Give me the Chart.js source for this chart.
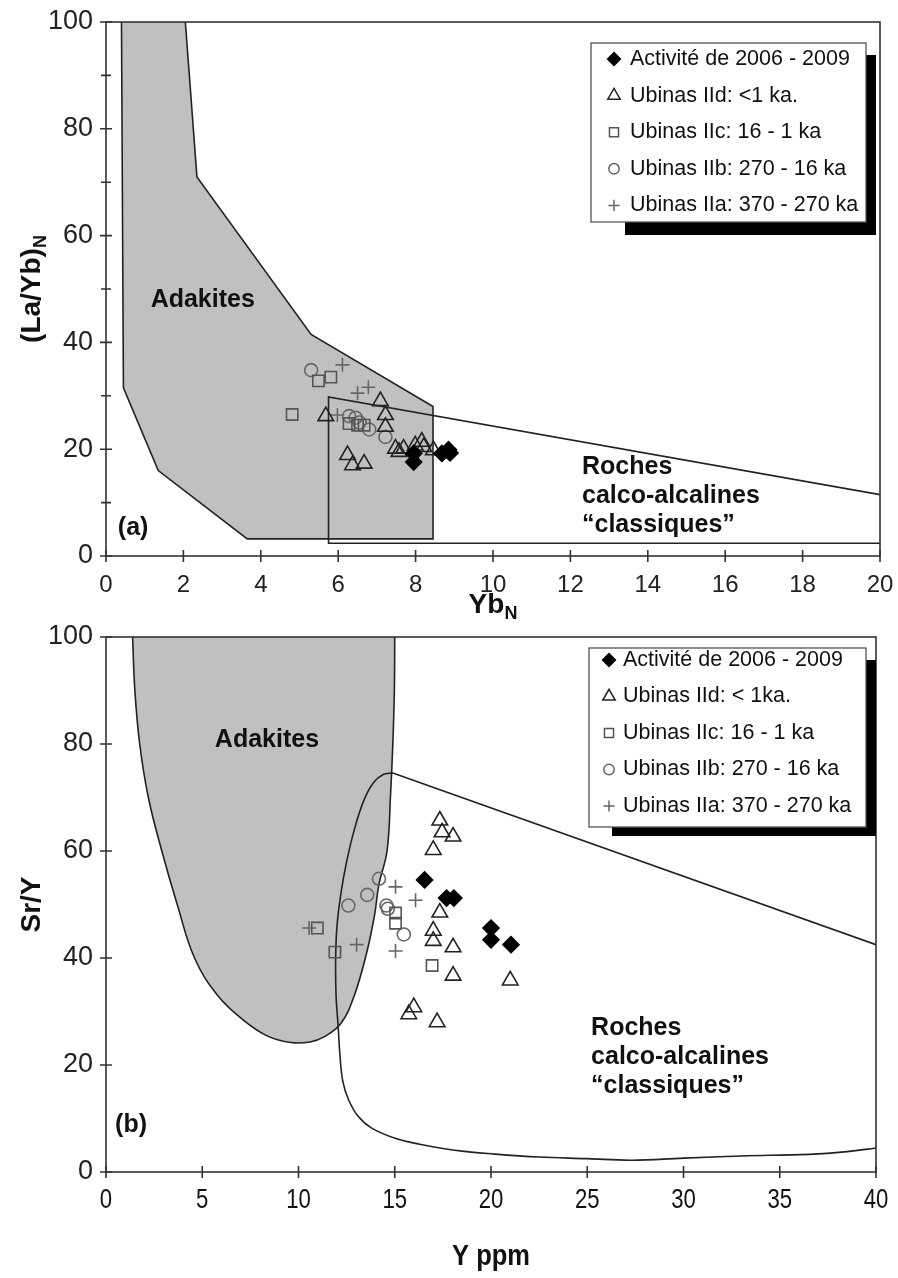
<!DOCTYPE html>
<html>
<head>
<meta charset="utf-8">
<script src="https://cdn.jsdelivr.net/npm/chart.js@4.4.1/dist/chart.umd.min.js"></script>
<style>
  body { margin: 0; background: #fff; }
  #wrap { position: relative; width: 898px; height: 1278px; }
  .panel { position: absolute; left: 0; width: 898px; }
  #panelA { top: 0; height: 620px; }
  #panelB { top: 620px; height: 658px; }
</style>
</head>
<body>
<div id="wrap">
  <div class="panel" id="panelA"><canvas id="chartA" width="898" height="620"></canvas></div>
  <div class="panel" id="panelB"><canvas id="chartB" width="898" height="658"></canvas></div>
</div>
<script>
// ---- (a) (La/Yb)N vs YbN ----
const a_actX = [7.95, 7.95, 8.68, 8.85, 8.89]
const a_actY = [19.2, 17.6, 19.2, 19.9, 19.3]
const a_iidX = [5.68, 7.09, 7.22, 7.22, 6.24, 6.37, 6.67, 7.48, 7.57, 7.69, 7.99, 8.16, 8.21, 8.46]
const a_iidY = [26.2, 29.0, 26.4, 24.2, 18.9, 17.0, 17.3, 20.1, 19.5, 20.1, 20.7, 21.4, 20.4, 19.8]
const a_iicX = [5.49, 5.81, 4.81, 6.28, 6.50, 6.67]
const a_iicY = [32.8, 33.5, 26.5, 24.8, 24.5, 24.5]
const a_iibX = [5.30, 6.28, 6.45, 6.55, 6.80, 7.22]
const a_iibY = [34.8, 26.2, 25.9, 25.0, 23.7, 22.3]
const a_iiaX = [6.11, 6.50, 6.78, 5.98]
const a_iiaY = [35.8, 30.5, 31.6, 26.4]
// champs
const a_adakX = [0.4, 0.45, 1.35, 3.65, 8.45, 8.45, 5.3, 2.35, 2.05]
const a_adakY = [100, 31.5, 16, 3.2, 3.2, 28, 41.5, 71, 100]
const a_rochX = [20, 5.75, 5.75, 20]
const a_rochY = [11.5, 29.8, 2.4, 2.4]

// ---- (b) Sr/Y vs Y ----
const b_actX = [16.55, 17.69, 18.07, 20.0, 20.0, 21.04]
const b_actY = [54.6, 51.2, 51.2, 45.6, 43.4, 42.5]
const b_iidX = [17.34, 17.46, 18.03, 17.0, 17.34, 17.0, 17.0, 18.03, 18.03, 21.0, 15.99, 15.73, 17.2]
const b_iidY = [65.7, 63.5, 62.7, 60.2, 48.5, 45.1, 43.2, 42.0, 36.7, 35.8, 30.8, 29.5, 28.0]
const b_iicX = [10.98, 11.89, 15.04, 15.04, 16.94]
const b_iicY = [45.6, 41.1, 48.4, 46.5, 38.6]
const b_iibX = [14.18, 13.57, 12.59, 14.57, 14.64, 15.47]
const b_iibY = [54.8, 51.8, 49.8, 49.8, 49.2, 44.4]
const b_iiaX = [15.04, 16.08, 13.02, 15.04, 10.55]
const b_iiaY = [53.3, 50.8, 42.5, 41.3, 45.6]
// champs
const b_adakX = [1.38, 1.5, 1.75, 2.2, 2.9, 3.7, 4.6, 5.8, 7.2, 8.4, 9.6, 10.6, 11.3, 12.19, 12.9, 13.57, 13.95, 14.18, 14.6, 14.78, 14.9, 14.98, 15.0]
const b_adakY = [100, 90, 80, 70, 60, 50, 40, 33, 28.2, 25.4, 24.2, 24.3, 25.2, 27.7, 33, 41.4, 48, 53.8, 60, 70.4, 80, 90, 100]
const b_rochLineX = [14.9, 40]
const b_rochLineY = [74.6, 42.5]
const b_rochX = [14.9, 14.4, 13.9, 13.4, 12.9, 12.5, 12.2, 12.0, 11.93, 11.95, 12.05, 12.15, 12.3, 12.6, 13.1, 13.8, 15.1, 16.3, 17.5, 18.5, 20, 22.5, 25, 27.3, 30, 33, 36.5, 38.5, 40]
const b_rochY = [74.6, 74.3, 72.8, 69.5, 64, 58, 52, 46, 40, 33, 27.7, 22, 17, 13.5, 10.4, 8.2, 6.2, 5.2, 4.4, 3.9, 3.4, 2.8, 2.5, 2.2, 2.6, 3.0, 3.3, 3.8, 4.5]

const labelsA = ['Activité de 2006 - 2009', 'Ubinas IId: <1 ka.', 'Ubinas IIc: 16 - 1 ka', 'Ubinas IIb: 270 - 16 ka', 'Ubinas IIa: 370 - 270 ka']
const labelsB = ['Activité de 2006 - 2009', 'Ubinas IId: < 1ka.', 'Ubinas IIc: 16 - 1 ka', 'Ubinas IIb: 270 - 16 ka', 'Ubinas IIa: 370 - 270 ka']

const FONT = "'Liberation Sans', Arial, Helvetica, sans-serif"
const NONE = 'rgba(0,0,0,0)'

const markerStyles = [
  { pointStyle: 'rectRot', radius: 8, fill: '#000', stroke: '#000' },
  { pointStyle: 'triangle', radius: 9, fill: NONE, stroke: '#222' },
  { pointStyle: 'rect', radius: 8, fill: NONE, stroke: '#555' },
  { pointStyle: 'circle', radius: 6.5, fill: NONE, stroke: '#666' },
  { pointStyle: 'cross', radius: 7, fill: NONE, stroke: '#666' }
]

function pts(xs, ys) {
  return xs.map((x, i) => ({ x: x, y: ys[i] }))
}

function markerSet(label, xs, ys, st) {
  return {
    label: label,
    data: pts(xs, ys),
    inLegend: true,
    order: 1,
    showLine: false,
    pointStyle: st.pointStyle,
    pointRadius: st.radius,
    pointBackgroundColor: st.fill,
    pointBorderColor: st.stroke,
    pointBorderWidth: 1.6
  }
}

function fieldSet(xs, ys, tension, filled) {
  return {
    data: pts(xs, ys),
    order: 10,
    showLine: true,
    pointRadius: 0,
    borderColor: '#222',
    borderWidth: 1.6,
    tension: tension,
    backgroundColor: filled ? '#c0c0c0' : NONE,
    fill: filled ? 'shape' : false
  }
}

// texte centre, avec indices et compression horizontale eventuelle
function drawRich(ctx, parts, x, y, angle, sx) {
  ctx.save()
  ctx.translate(x, y)
  ctx.rotate(angle)
  ctx.scale(sx || 1, 1)
  ctx.textAlign = 'left'
  ctx.textBaseline = 'alphabetic'
  ctx.fillStyle = '#111'
  let w = 0
  parts.forEach(p => { ctx.font = p.font; w += ctx.measureText(p.text).width })
  let cx = -w / 2
  parts.forEach(p => {
    ctx.font = p.font
    ctx.fillText(p.text, cx, p.dy || 0)
    cx += ctx.measureText(p.text).width
  })
  ctx.restore()
}

const decor = {
  id: 'decor',
  afterDatasetsDraw(chart, args, opts) {
    const ctx = chart.ctx
    const xs = chart.scales.x
    const ys = chart.scales.y
    const { left, right, top, bottom } = chart.chartArea
    ctx.save()

    // textes dans le graphe
    opts.texts.forEach(t => {
      ctx.font = t.font
      ctx.fillStyle = '#111'
      ctx.textAlign = t.align
      ctx.textBaseline = 'middle'
      const px = xs.getPixelForValue(t.x)
      const py = ys.getPixelForValue(t.y)
      t.text.split('\n').forEach((line, i) => ctx.fillText(line, px, py + i * t.lineH))
    })

    // cadre + graduations
    ctx.strokeStyle = '#333'
    ctx.lineWidth = 1.6
    ctx.strokeRect(left, top, right - left, bottom - top)
    ctx.beginPath()
    xs.ticks.forEach(t => {
      const p = xs.getPixelForValue(t.value)
      ctx.moveTo(p, bottom - 6)
      ctx.lineTo(p, bottom + 6)
    })
    ys.ticks.forEach(t => {
      const p = ys.getPixelForValue(t.value)
      const len = t.label === '' ? 5 : 6
      ctx.moveTo(left - len, p)
      ctx.lineTo(left + len, p)
    })
    ctx.stroke()

    // etiquettes x etroites (panneau b)
    if (opts.narrowX) {
      xs.ticks.forEach(t => {
        const p = xs.getPixelForValue(t.value)
        drawRich(ctx, [{ text: String(t.value), font: '27px ' + FONT }], p, bottom + 36, 0, 0.82)
      })
    }

    // titres des axes
    drawRich(ctx, opts.xTitle, (left + right) / 2, opts.xTitleY, 0, opts.xTitleScale)
    drawRich(ctx, opts.yTitle, opts.yTitleX, (top + bottom) / 2, -Math.PI / 2)

    // legende
    const lg = opts.legend
    ctx.fillStyle = '#000'
    ctx.fillRect(lg.shadow[0], lg.shadow[1], lg.shadow[2], lg.shadow[3])
    ctx.fillStyle = '#fff'
    ctx.fillRect(lg.box[0], lg.box[1], lg.box[2], lg.box[3])
    ctx.strokeStyle = '#555'
    ctx.lineWidth = 1.3
    ctx.strokeRect(lg.box[0], lg.box[1], lg.box[2], lg.box[3])
    chart.data.datasets.filter(d => d.inLegend).forEach((d, i) => {
      const y = lg.rowY + i * lg.rowH
      ctx.fillStyle = d.pointBackgroundColor
      ctx.strokeStyle = d.pointBorderColor
      ctx.lineWidth = 1.5
      Chart.helpers.drawPoint(ctx, { pointStyle: d.pointStyle, radius: d.pointRadius * 0.8, borderWidth: 1.5, rotation: 0 }, lg.symX, y)
      ctx.fillStyle = '#111'
      ctx.font = lg.font
      ctx.textAlign = 'left'
      ctx.textBaseline = 'middle'
      ctx.fillText(d.label, lg.textX, y)
    })
    ctx.restore()
  }
}

function makeChart(id, cfg) {
  return new Chart(document.getElementById(id), {
    type: 'scatter',
    data: { datasets: cfg.datasets },
    plugins: [decor],
    options: {
      responsive: false,
      animation: false,
      events: [],
      layout: { padding: cfg.padding },
      plugins: {
        legend: { display: false },
        tooltip: { enabled: false },
        decor: cfg.decor
      },
      scales: {
        x: {
          type: 'linear',
          min: cfg.xMin, max: cfg.xMax,
          grid: { display: false },
          border: { display: false },
          ticks: {
            stepSize: cfg.xStep, autoSkip: false, maxRotation: 0, padding: 7,
            color: cfg.decor.narrowX ? NONE : '#222',
            font: { family: FONT, size: 24 }
          },
          afterFit: s => { s.height = cfg.xHeight; s.paddingLeft = 0; s.paddingRight = 0 }
        },
        y: {
          type: 'linear',
          min: 0, max: 100,
          grid: { display: false },
          border: { display: false },
          ticks: {
            stepSize: cfg.yStep, autoSkip: false, padding: 5, color: '#222',
            font: { family: FONT, size: 27 },
            callback: v => (v % 20 === 0 ? v : '')
          },
          afterFit: s => { s.width = cfg.yWidth; s.paddingTop = 0; s.paddingBottom = 0 }
        }
      }
    }
  })
}

const boldT = s => 'bold ' + s + 'px ' + FONT

makeChart('chartA', {
  datasets: [
    markerSet(labelsA[0], a_actX, a_actY, markerStyles[0]),
    markerSet(labelsA[1], a_iidX, a_iidY, markerStyles[1]),
    markerSet(labelsA[2], a_iicX, a_iicY, markerStyles[2]),
    markerSet(labelsA[3], a_iibX, a_iibY, markerStyles[3]),
    markerSet(labelsA[4], a_iiaX, a_iiaY, markerStyles[4]),
    fieldSet(a_rochX, a_rochY, 0, false),
    fieldSet(a_adakX, a_adakY, 0, true)
  ],
  padding: { top: 22, right: 18, left: 0, bottom: 0 },
  xMin: 0, xMax: 20, xStep: 2, xHeight: 64, yWidth: 106, yStep: 10,
  decor: {
    texts: [
      { text: 'Adakites', x: 2.5, y: 47.9, font: boldT(25), align: 'center', lineH: 0 },
      { text: 'Roches\ncalco-alcalines\n“classiques”', x: 12.3, y: 16.6, font: boldT(25), align: 'left', lineH: 29 },
      { text: '(a)', x: 0.7, y: 5.3, font: boldT(25), align: 'center', lineH: 0 }
    ],
    xTitle: [{ text: 'Yb', font: boldT(28) }, { text: 'N', font: boldT(18), dy: 6 }],
    xTitleY: 613,
    yTitle: [{ text: '(La/Yb)', font: boldT(28) }, { text: 'N', font: boldT(18), dy: 6 }],
    yTitleX: 40,
    legend: {
      box: [591, 43, 275, 179],
      shadow: [625, 55, 251, 180],
      symX: 614, textX: 630, rowY: 59, rowH: 36.6,
      font: '21.5px ' + FONT
    }
  }
})

makeChart('chartB', {
  datasets: [
    markerSet(labelsB[0], b_actX, b_actY, markerStyles[0]),
    markerSet(labelsB[1], b_iidX, b_iidY, markerStyles[1]),
    markerSet(labelsB[2], b_iicX, b_iicY, markerStyles[2]),
    markerSet(labelsB[3], b_iibX, b_iibY, markerStyles[3]),
    markerSet(labelsB[4], b_iiaX, b_iiaY, markerStyles[4]),
    fieldSet(b_rochLineX, b_rochLineY, 0, false),
    fieldSet(b_rochX, b_rochY, 0.4, false),
    fieldSet(b_adakX, b_adakY, 0.4, true)
  ],
  padding: { top: 17, right: 22, left: 0, bottom: 0 },
  xMin: 0, xMax: 40, xStep: 5, xHeight: 106, yWidth: 106, yStep: 20,
  decor: {
    narrowX: true,
    texts: [
      { text: 'Adakites', x: 8.36, y: 80.7, font: boldT(25), align: 'center', lineH: 0 },
      { text: 'Roches\ncalco-alcalines\n“classiques”', x: 25.2, y: 26.9, font: boldT(25), align: 'left', lineH: 29 },
      { text: '(b)', x: 1.3, y: 8.8, font: boldT(25), align: 'center', lineH: 0 }
    ],
    xTitle: [{ text: 'Y ppm', font: boldT(30) }],
    xTitleY: 645,
    xTitleScale: 0.85,
    yTitle: [{ text: 'Sr/Y', font: boldT(28) }],
    yTitleX: 40,
    legend: {
      box: [589, 28, 277, 179],
      shadow: [612, 40, 264, 176],
      symX: 609, textX: 623, rowY: 40, rowH: 36.5,
      font: '21.5px ' + FONT
    }
  }
})
</script>
</body>
</html>
